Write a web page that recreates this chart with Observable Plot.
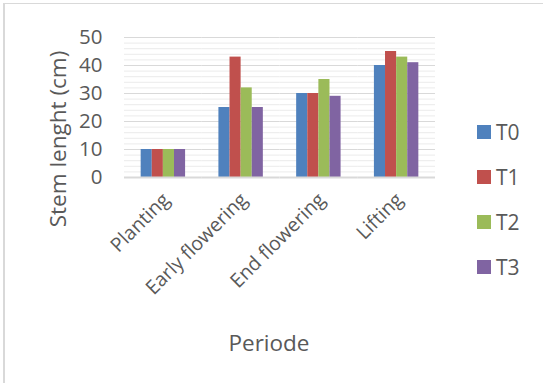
<!DOCTYPE html>
<html>
<head>
<meta charset="utf-8">
<script src="https://cdn.jsdelivr.net/npm/d3@7"></script>
<script src="https://cdn.jsdelivr.net/npm/@observablehq/plot@0.6"></script>
<style>
  html, body { margin: 0; padding: 0; background: #fff; overflow: hidden; }
  #chart { position: relative; width: 543px; height: 383px; font-family: "Open Sans", sans-serif; color: #595959; }
  #chart svg { position: absolute; left: 0; top: 0; }
  .frame { position: absolute; left: 3px; top: 3px; width: 620px; height: 420px; border-top: 1px solid #d9d9d9; border-left: 2px solid #d9d9d9; box-sizing: border-box; }
  .ytitle { position: absolute; left: 57px; top: 139px; transform: translate(-50%, -50%) rotate(-90deg); font-size: 22.5px; white-space: nowrap; }
  .xtitle { position: absolute; left: 269px; top: 342px; transform: translate(-50%, -50%); font-size: 22.5px; white-space: nowrap; }
  .legend { position: absolute; left: 477px; top: 109.5px; display: flex; flex-direction: column; }
  .legend .item { height: 45px; display: flex; align-items: center; font-size: 21px; }
  .legend .swatch { width: 14px; height: 14px; margin-right: 5px; }
</style>
</head>
<body>
<div id="chart"><div class="frame"></div></div>
<script>
// Stem length by growth period for four treatments
const periods = ["Planting", "Early flowering", "End flowering", "Lifting"];
const treatments = ["T0", "T1", "T2", "T3"];
const t0 = [10, 25, 30, 40];
const t1 = [10, 43, 30, 45];
const t2 = [10, 32, 35, 43];
const t3 = [10, 25, 29, 41];
const yTicks = [0, 10, 20, 30, 40, 50];
const colors = ["#4F81BD", "#C0504D", "#9BBB59", "#8064A2"];
const yTitle = "Stem lenght (cm)";
const xTitle = "Periode";

const rows = [t0, t1, t2, t3].flatMap((vals, i) =>
  vals.map((v, j) => ({period: periods[j], treatment: treatments[i], value: v}))
);
const majorGrid = yTicks.slice(1);
const minorGrid = d3.range(2, 50, 2).filter(v => v % 10 !== 0);

const plot = Plot.plot({
  width: 543,
  height: 383,
  marginTop: 37,
  marginRight: 108,
  marginBottom: 206,
  marginLeft: 124,
  style: {fontFamily: "'Open Sans', sans-serif", color: "#595959", background: "transparent", overflow: "visible"},
  fx: {domain: periods, padding: 0, round: false},
  x: {domain: treatments, paddingInner: 0, paddingOuter: 1.5, round: false, axis: null},
  y: {domain: [0, 50]},
  color: {domain: treatments, range: colors},
  marks: [
    Plot.ruleY(minorGrid, {stroke: "#ebebeb", strokeWidth: 1}),
    Plot.ruleY(majorGrid, {stroke: "#d9d9d9", strokeWidth: 1}),
    Plot.barY(rows, {fx: "period", x: "treatment", y: "value", fill: "treatment", inset: 0}),
    Plot.ruleY([0], {stroke: "#d9d9d9", strokeWidth: 2}),
    Plot.axisY({ticks: yTicks, tickSize: 0, tickPadding: 22, fontSize: 20.5, label: null}),
    Plot.axisFx({anchor: "bottom", tickRotate: -45, tickSize: 0, tickPadding: 19, dx: 3, fontSize: 19.5, label: null})
  ]
});

const chart = document.getElementById("chart");
chart.appendChild(plot);

const yt = document.createElement("div");
yt.className = "ytitle";
yt.textContent = yTitle;
chart.appendChild(yt);

const xt = document.createElement("div");
xt.className = "xtitle";
xt.textContent = xTitle;
chart.appendChild(xt);

// Legend built from the plot's own color scale
const colorScale = plot.scale("color");
const legend = d3.select(chart).append("div").attr("class", "legend");
const items = legend.selectAll(".item").data(colorScale.domain).join("div").attr("class", "item");
items.append("div").attr("class", "swatch").style("background", (d, i) => colorScale.range[i]);
items.append("span").text(d => d);
</script>
</body>
</html>
